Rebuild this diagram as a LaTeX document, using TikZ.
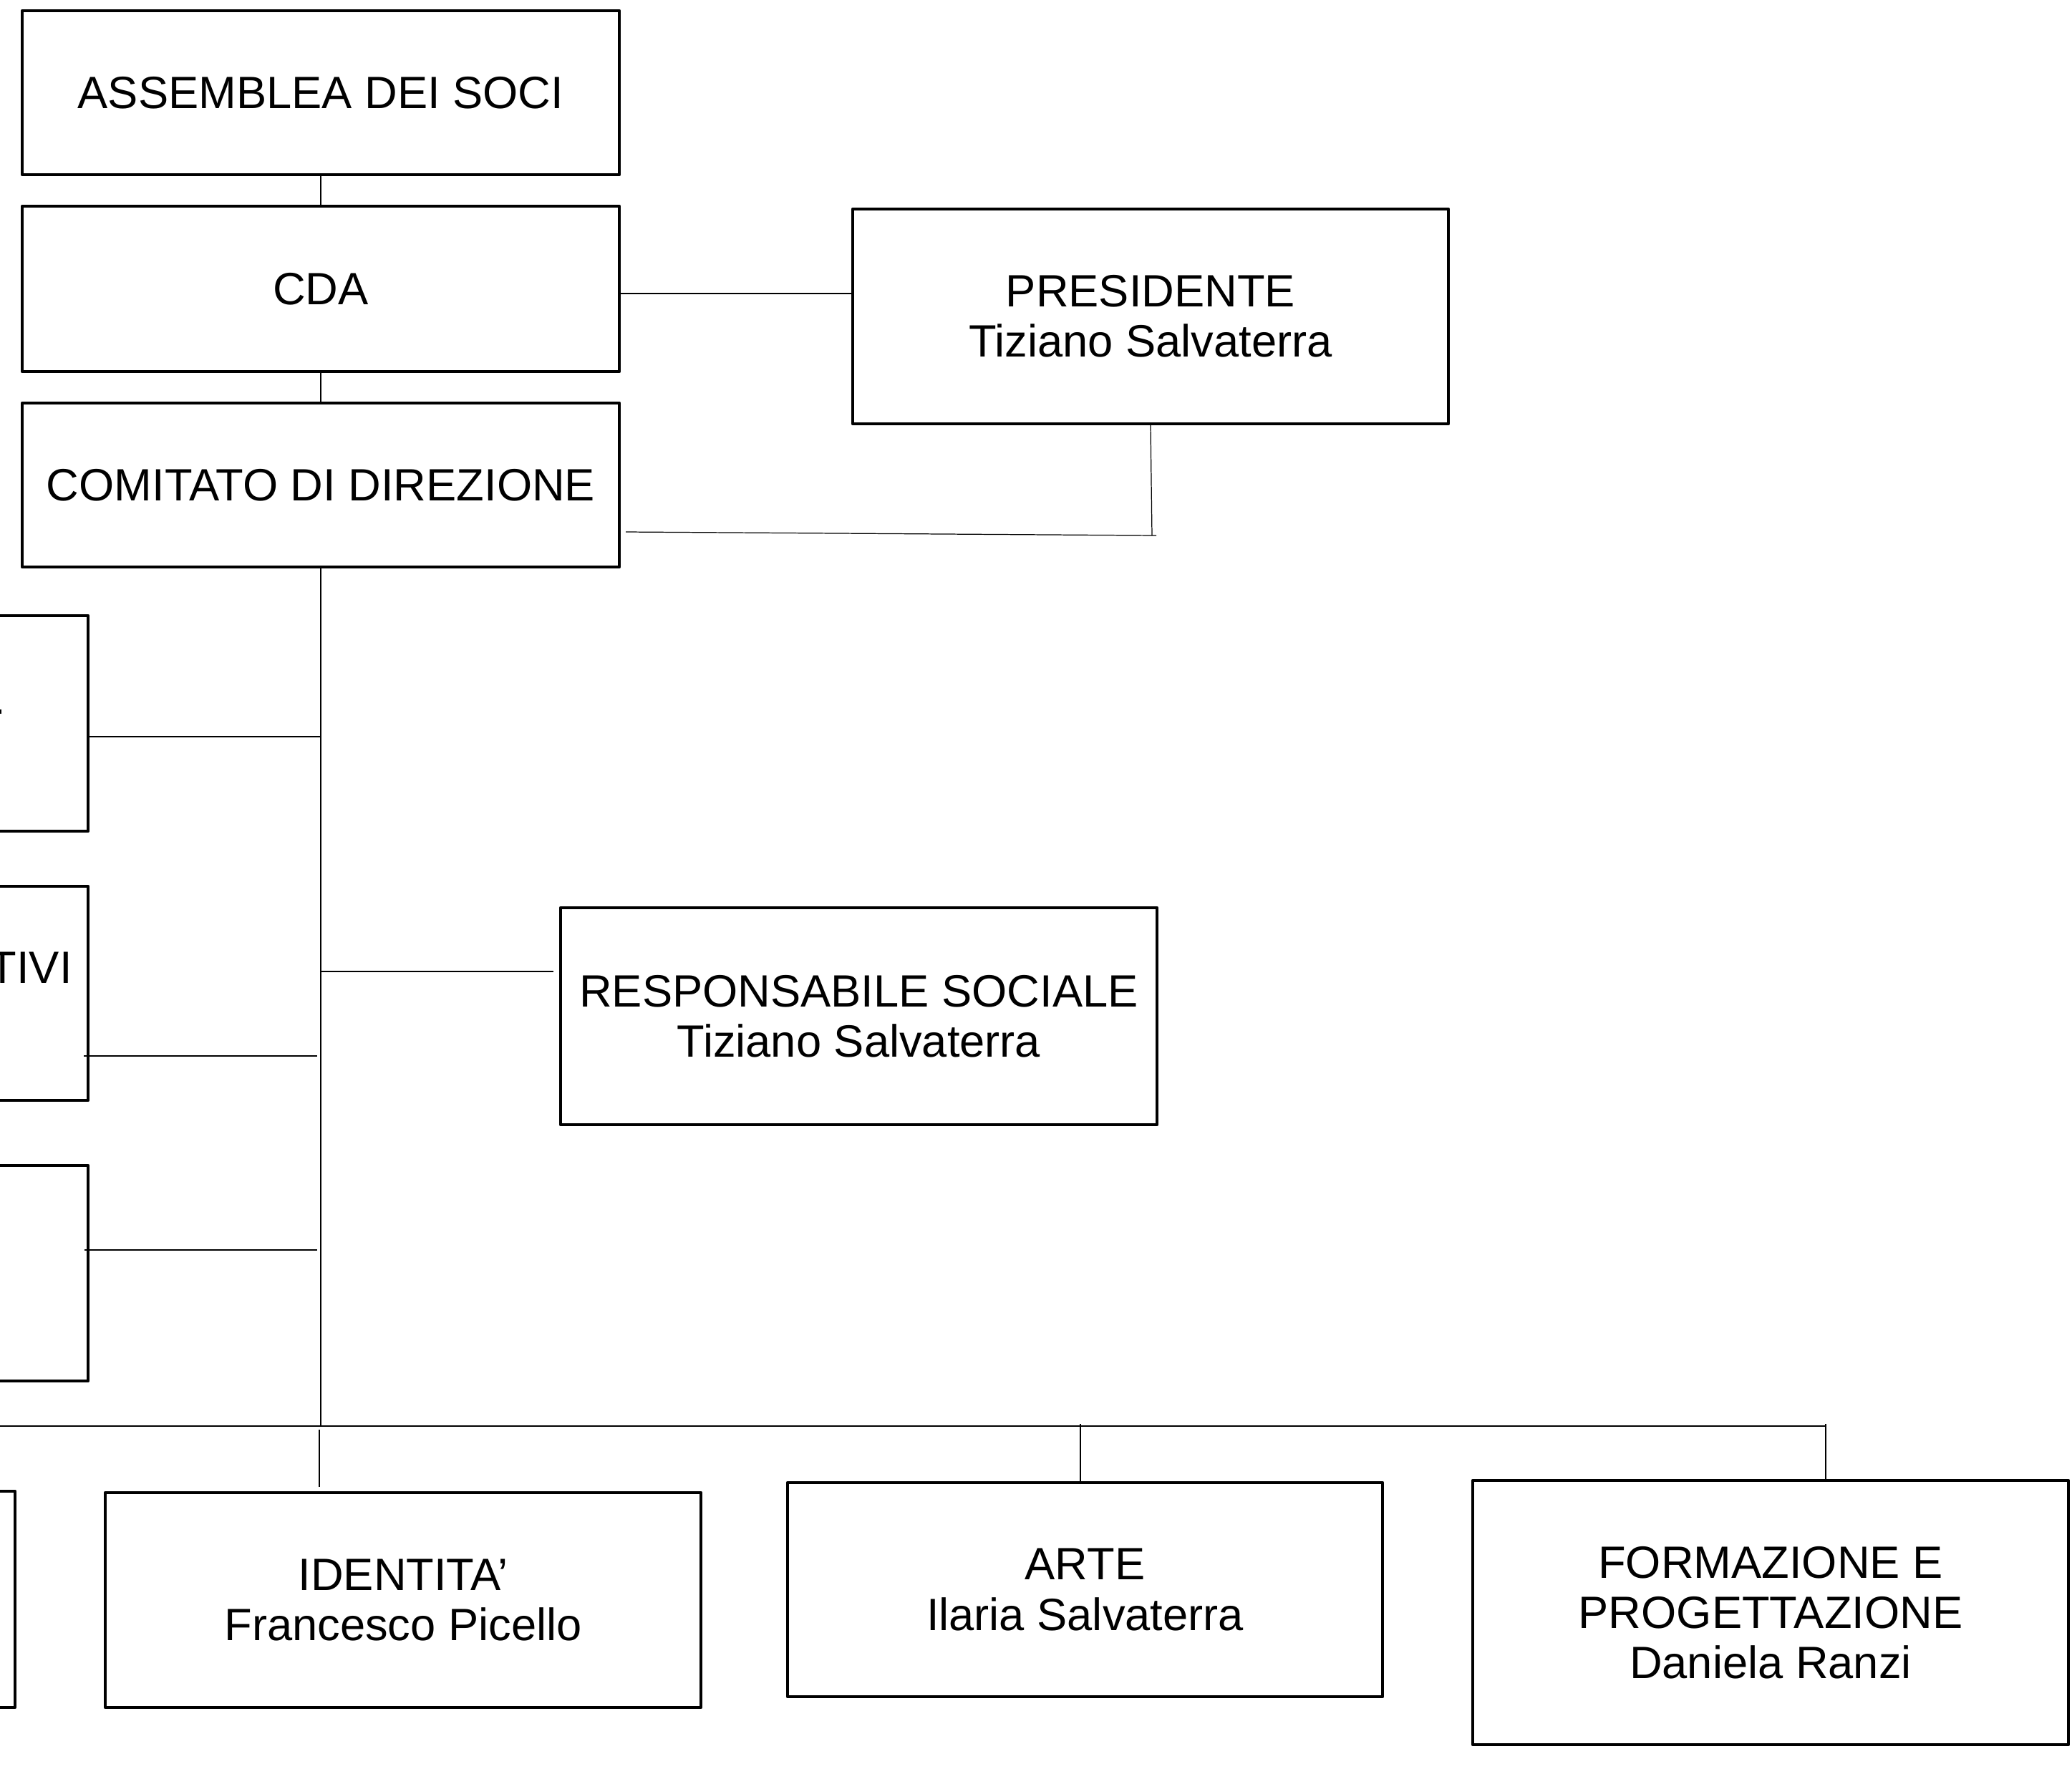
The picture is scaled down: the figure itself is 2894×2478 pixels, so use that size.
\documentclass[tikz,border=0pt]{standalone}
\usepackage{fontspec}
\setmainfont{Liberation Sans}
\begin{document}
\begin{tikzpicture}[x=0.02cm,y=-0.02cm,
  obox/.style={draw,line width=2.5pt,line join=round,inner sep=0pt,align=center,
    font=\fontsize{36}{40}\selectfont},
  conn/.style={line width=0.7pt}]
\useasboundingbox (0,0) rectangle (2894,2478);
\clip (0,0) rectangle (2894,2478);
% boxes
\node[obox,minimum width=834*0.02cm,minimum height=229*0.02cm] (ass) at (448,129.5) {ASSEMBLEA DEI SOCI};
\node[obox,minimum width=834*0.02cm,minimum height=231*0.02cm] (cda) at (448,403.5) {CDA};
\node[obox,minimum width=834*0.02cm,minimum height=229*0.02cm] (com) at (448,677.5) {COMITATO DI DIREZIONE};
\node[obox,minimum width=832*0.02cm,minimum height=300*0.02cm] (pres) at (1607,442) {PRESIDENTE\\Tiziano Salvaterra};
\node[obox,minimum width=833*0.02cm,minimum height=303*0.02cm] (resp) at (1199.5,1419.5) {RESPONSABILE SOCIALE\\Tiziano Salvaterra};
\node[obox,minimum width=834*0.02cm,minimum height=301*0.02cm] (l1) at (-294,1010.5) {};
\node[obox,minimum width=834*0.02cm,minimum height=299*0.02cm] (l2) at (-294,1387.5) {};
\node[obox,minimum width=834*0.02cm,minimum height=301*0.02cm] (l3) at (-294,1778.5) {};
\node[obox,minimum width=834*0.02cm,minimum height=302*0.02cm] (lb) at (-396,2234) {};
\node[obox,minimum width=832*0.02cm,minimum height=300*0.02cm] (ide) at (563,2235) {IDENTITA’\\Francesco Picello};
\node[obox,minimum width=831*0.02cm,minimum height=299*0.02cm] (arte) at (1515.5,2220.5) {ARTE\\Ilaria Salvaterra};
\node[obox,minimum width=832*0.02cm,minimum height=369*0.02cm] (form) at (2473,2252.5) {FORMAZIONE E\\PROGETTAZIONE\\Daniela Ranzi};
% visible fragments of texts in the cut-off boxes
\node[anchor=base east,inner sep=0pt,font=\fontsize{36}{40}\selectfont] (tivi) at (101,1373) {TIVI};
\fill (0,991) rectangle (2,997);
% coordinates
\coordinate (c1) at (865,410);
\coordinate (p2) at (1609,748);
\coordinate (c3) at (874,743);
\coordinate (c4) at (1615,748);
\coordinate (bus) at (448,1992);
\coordinate (busL) at (-10,1992);
\coordinate (busR) at (2550,1992);
\coordinate (t1) at (448,1029);
\coordinate (t2a) at (117,1475);
\coordinate (t2b) at (443,1475);
\coordinate (t3a) at (118,1746);
\coordinate (t3b) at (443,1746);
\coordinate (r1) at (448,1357);
\coordinate (r2) at (773,1357);
\coordinate (i1) at (446,1997);
\coordinate (i2) at (446,2077);
\coordinate (a1) at (1509,1989);
\coordinate (f1) at (2550,1989);
% connectors
\draw[conn] (ass.south) -- (cda.north);
\draw[conn] (cda.south) -- (com.north);
\draw[conn] (c1) -- (c1 -| pres.west);
\draw[conn] (pres.south) -- (p2);
\draw[conn] (c3) -- (c4);
\draw[conn] (com.south) -- (bus);
\draw[conn] (t1 -| l1.east) -- (t1);
\draw[conn] (t2a) -- (t2b);
\draw[conn] (t3a) -- (t3b);
\draw[conn] (r1) -- (r2);
\draw[conn] (busL) -- (busR);
\draw[conn] (i1) -- (i2);
\draw[conn] (a1) -- (a1 |- arte.north);
\draw[conn] (f1) -- (f1 |- form.north);
\end{tikzpicture}
\end{document}
